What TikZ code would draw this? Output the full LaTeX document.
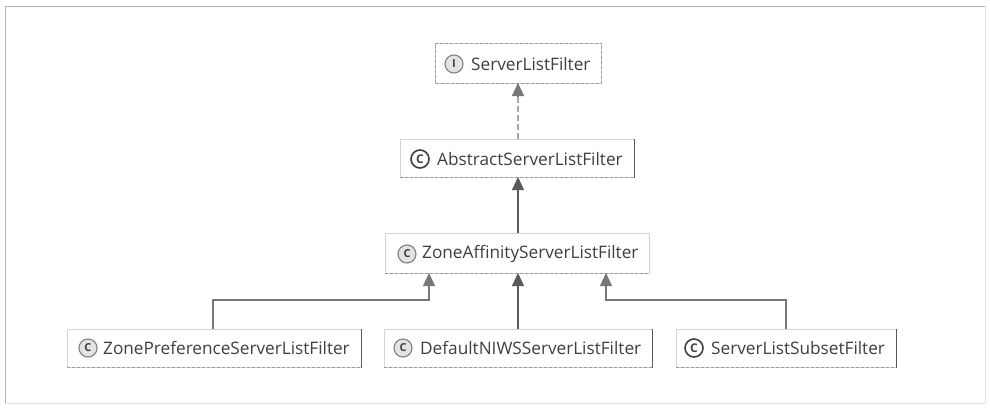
\documentclass[tikz,border=0pt]{standalone}
\usepackage{fontspec}
\setmainfont{Open Sans}
\usetikzlibrary{arrows.meta}
\definecolor{ink}{HTML}{3F3F3F}
\definecolor{frameline}{HTML}{B4B4B4}
\definecolor{boxline}{HTML}{D4D4D4}
\definecolor{boxbottom}{HTML}{9A9A9A}
\definecolor{edgedark}{HTML}{5A5A5A}
\definecolor{edgemid}{HTML}{777777}
\definecolor{edgelight}{HTML}{A8A8A8}
\tikzset{
  x=1pt,y=-1pt,
  classbox/.style={draw=boxline,line width=0.8pt,fill=white,inner sep=0pt,anchor=north west},
  classname/.style={anchor=west,inner sep=0pt,text=ink,font=\fontsize{17.2}{20}\selectfont},
  classicon/.style={circle,draw=#1,line width=1.1pt,fill=#1!22,minimum size=18pt,inner sep=0pt,text=ink,font=\fontsize{11}{12}\selectfont\bfseries},
  outlineicon/.style={circle,draw=ink,line width=1.6pt,fill=white,minimum size=18pt,inner sep=0pt,text=ink,font=\fontsize{12}{12}\selectfont\bfseries},
  sideedge/.style={draw=edgedark,line width=1pt},
  bottomedge/.style={draw=boxbottom,line width=1pt,densely dashed},
  inherit/.style={draw=#1,line width=1.2pt,-{Triangle[length=13pt,width=12pt,fill=#1]}},
  pageframe/.style={draw=frameline,line width=0.8pt},
}
\begin{document}
\begin{tikzpicture}
\useasboundingbox (0,0) rectangle (990,407);
\draw[pageframe] (5,403) -- (5,6) -- (985,6);
\draw[pageframe,line width=0.5pt,draw=frameline!40] (5,403) -- (985,403) -- (985,6);

% boxes
\node[classbox,minimum width=166pt,minimum height=40pt] (slf) at (435,43) {};
\node[classbox,minimum width=234pt,minimum height=38pt] (aslf) at (400,139) {};
\node[classbox,minimum width=264pt,minimum height=40pt] (zaslf) at (385,233) {};
\node[classbox,minimum width=294pt,minimum height=38pt] (zpslf) at (67,329) {};
\node[classbox,minimum width=268pt,minimum height=38pt] (dnslf) at (384,329) {};
\node[classbox,minimum width=220pt,minimum height=38pt] (slsf) at (676,329) {};

% box edges that print darker
\draw[bottomedge] (slf.north west) -- (slf.north east) -- (slf.south east) -- (slf.south west) -- cycle;
\foreach \b in {aslf,zaslf,zpslf,dnslf,slsf}
  \draw[bottomedge] (\b.south west) -- (\b.south east);
\draw[sideedge] (aslf.north east) -- (aslf.south east);
\draw[sideedge] (zpslf.north east) -- (zpslf.south east);
\draw[sideedge] (dnslf.north east) -- (dnslf.south east);
\draw[sideedge] (slsf.north east) -- (slsf.south east);

% icons
\node[classicon=gray] (islf) at (454,64) {I};
\node[outlineicon] (iaslf) at (420,159) {C};
\node[classicon=gray] (izaslf) at (407,254) {C};
\node[classicon=gray] (izpslf) at (88,348) {C};
\node[classicon=gray] (idnslf) at (403,348) {C};
\node[outlineicon] (islsf) at (694,348) {C};

% names
\node[classname] (tslf) at (471,64) {ServerListFilter};
\node[classname] (taslf) at (437,159) {AbstractServerListFilter};
\node[classname] (tzaslf) at (422,254) {ZoneAffinityServerListFilter};
\node[classname] (tzpslf) at (103,348) {ZonePreferenceServerListFilter};
\node[classname] (tdnslf) at (420,348) {DefaultNIWSServerListFilter};
\node[classname] (tslsf) at (711,348) {ServerListSubsetFilter};

% connectors
\coordinate (zpout) at (213,329);
\coordinate (zpin) at (429,273);
\coordinate (ssout) at (786,329);
\coordinate (ssin) at (606,273);
\coordinate (dnout) at (518,329);
\coordinate (dnin) at (518,273);
\coordinate (asout) at (518,233);
\coordinate (asin) at (518,177);
\coordinate (slout) at (518,139);
\coordinate (slin) at (518,83);
\draw[draw=edgelight,line width=1.2pt,dash pattern=on 6pt off 3pt] (slout) -- (518,96);
\draw[inherit=edgemid] (518,97) -- (slin);
\draw[inherit=edgedark] (asout) -- (asin);
\draw[inherit=edgedark] (dnout) -- (dnin);
\draw[inherit=edgemid] (zpout) -- (213,300) -- (429,300) -- (zpin);
\draw[inherit=edgemid] (ssout) -- (786,300) -- (606,300) -- (ssin);
\end{tikzpicture}
\end{document}
